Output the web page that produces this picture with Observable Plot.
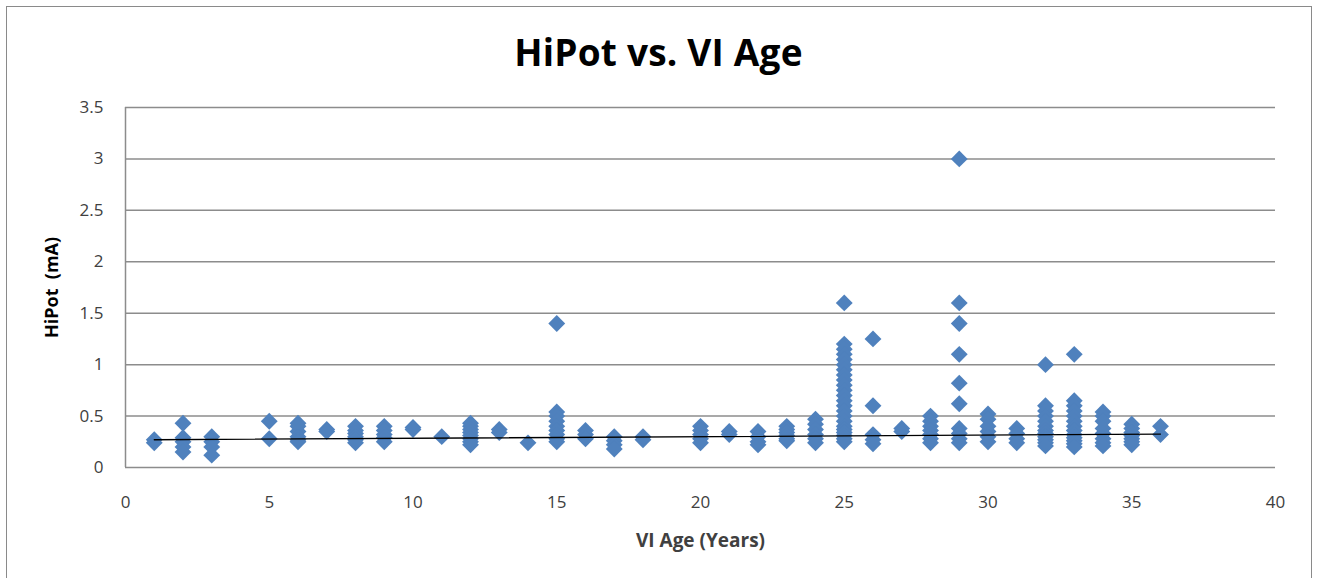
<!DOCTYPE html>
<html><head><meta charset="utf-8">
<script src="https://cdn.jsdelivr.net/npm/d3@7"></script>
<script src="https://cdn.jsdelivr.net/npm/@observablehq/plot@0.6"></script>
<style>
html,body{margin:0;padding:0;background:#fff;}
body{width:1317px;height:578px;overflow:hidden;position:relative;font-family:"Open Sans",sans-serif;}
#frame{position:absolute;left:6px;top:6px;width:1306px;height:600px;border:1.5px solid #8a8a8a;box-sizing:border-box;}
#title{position:absolute;left:0;top:31px;width:1317px;height:42px;line-height:42px;text-align:center;font-size:37px;font-weight:bold;color:#000;letter-spacing:0.2px;}
#chart{position:absolute;left:0;top:90px;}
</style></head>
<body>
<div id="frame"></div>
<div id="title">HiPot vs. VI Age</div>
<div id="chart"></div>
<script>
// VI age groups (years) and the HiPot readings (mA) observed at each age
const ages = [1, 2, 3, 5, 6, 7, 8, 9, 10, 11, 12, 13, 14, 15, 16, 17, 18, 20, 21, 22, 23, 24, 25, 26, 27, 28, 29, 30, 31, 32, 33, 34, 35, 36];
const hipotByAge = [
  [0.27, 0.24],
  [0.43, 0.29, 0.25, 0.2, 0.15],
  [0.3, 0.25, 0.2, 0.12],
  [0.45, 0.28],
  [0.43, 0.4, 0.35, 0.3, 0.27, 0.25],
  [0.37, 0.35],
  [0.4, 0.36, 0.33, 0.3, 0.27, 0.24],
  [0.4, 0.36, 0.32, 0.29, 0.25],
  [0.39, 0.37],
  [0.3],
  [0.43, 0.4, 0.37, 0.34, 0.31, 0.28, 0.25, 0.22],
  [0.37, 0.34],
  [0.24],
  [1.4, 0.54, 0.5, 0.45, 0.4, 0.36, 0.32, 0.28, 0.25],
  [0.36, 0.32, 0.28],
  [0.3, 0.26, 0.22, 0.18],
  [0.3, 0.27],
  [0.4, 0.36, 0.32, 0.28, 0.24],
  [0.35, 0.32],
  [0.35, 0.3, 0.25, 0.22],
  [0.4, 0.37, 0.34, 0.31, 0.28, 0.26],
  [0.47, 0.42, 0.37, 0.32, 0.28, 0.24],
  [1.6, 1.2, 1.15, 1.1, 1.05, 1.0, 0.95, 0.9, 0.85, 0.8, 0.75, 0.7, 0.65, 0.6, 0.55, 0.5, 0.45, 0.4, 0.37, 0.34, 0.31, 0.28, 0.25],
  [1.25, 0.6, 0.32, 0.27, 0.23],
  [0.38, 0.35],
  [0.5, 0.45, 0.4, 0.36, 0.32, 0.28, 0.24],
  [3.0, 1.6, 1.4, 1.1, 0.82, 0.62, 0.38, 0.33, 0.28, 0.24],
  [0.52, 0.47, 0.4, 0.35, 0.3, 0.25],
  [0.38, 0.33, 0.28, 0.24],
  [1.0, 0.6, 0.55, 0.5, 0.45, 0.4, 0.36, 0.33, 0.3, 0.27, 0.24, 0.21],
  [1.1, 0.65, 0.6, 0.55, 0.5, 0.45, 0.4, 0.36, 0.32, 0.29, 0.26, 0.23, 0.2],
  [0.54, 0.5, 0.45, 0.38, 0.33, 0.28, 0.24, 0.21],
  [0.42, 0.38, 0.34, 0.31, 0.28, 0.25, 0.22],
  [0.4, 0.32]
];
// linear trend line end points
const trendAge = [1, 36];
const trendHipot = [0.27, 0.325];
// axis ticks
const xTicks = [0, 5, 10, 15, 20, 25, 30, 35, 40];
const yTicks = [0, 0.5, 1, 1.5, 2, 2.5, 3, 3.5];
const xTitle = "VI Age (Years)";
const yTitle = "HiPot\u00a0 (mA)";

const points = ages.flatMap((a, i) => hipotByAge[i].map(v => ({age: a, hipot: v})));
const trend = trendAge.map((a, i) => ({age: a, hipot: trendHipot[i]}));

const gridColor = "#8c8c8c";
const chart = Plot.plot({
  width: 1317,
  height: 488,
  marginLeft: 125,
  marginRight: 42,
  marginTop: 17,
  marginBottom: 111,
  style: {fontFamily: "'Open Sans', sans-serif", fontSize: "17px", color: "#404040", background: "transparent"},
  x: {domain: [0, 40]},
  y: {domain: [0, 3.5]},
  marks: [
    Plot.gridY(yTicks, {stroke: gridColor, strokeOpacity: 1, strokeWidth: 1.5}),
    Plot.ruleX([0], {stroke: gridColor, strokeWidth: 1.5}),
    Plot.dot(points, {x: "age", y: "hipot", symbol: "diamond2", r: 7.6, fill: "#4F81BD", stroke: "none"}),
    Plot.line(trend, {x: "age", y: "hipot", stroke: "#000", strokeWidth: 1.3}),
    Plot.axisX(xTicks, {tickSize: 0, tickPadding: 28, label: null, fontSize: 17}),
    Plot.axisY(yTicks, {tickSize: 0, tickPadding: 22, label: null, fontSize: 17, tickFormat: d => String(d)}),
    Plot.text([xTitle], {frameAnchor: "bottom", dy: 79, fontWeight: "bold", fontSize: 19, fill: "#404040"}),
    Plot.text([yTitle], {frameAnchor: "left", textAnchor: "middle", dx: -73, rotate: -90, fontWeight: "bold", fontSize: 18, fill: "#000"})
  ]
});
document.getElementById("chart").appendChild(chart);
</script>
</body></html>
